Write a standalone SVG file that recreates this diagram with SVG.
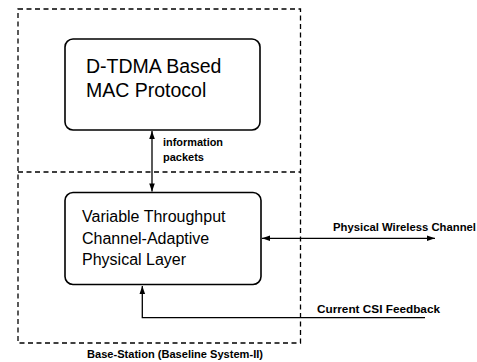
<svg xmlns="http://www.w3.org/2000/svg" width="477" height="362" viewBox="0 0 477 362">
  <style>
    .dash { fill: none; stroke: #000; stroke-width: 1.3; stroke-dasharray: 5 3.5; }
    .box { fill: #fff; stroke: #000; stroke-width: 1.6; }
    .line { fill: none; stroke: #000; stroke-width: 1.3; }
    .big { font-family: "Liberation Sans", Arial, sans-serif; font-size: 19.5px; fill: #000; }
    .mid { font-family: "Liberation Sans", Arial, sans-serif; font-size: 16px; fill: #000; }
    .lbl { font-family: "Liberation Sans", Arial, sans-serif; font-size: 11px; font-weight: bold; fill: #000; }
  </style>
  <defs>
    <marker id="arrow" viewBox="0 0 10 10" refX="10" refY="5" markerWidth="10" markerHeight="8" markerUnits="userSpaceOnUse" orient="auto-start-reverse">
      <path d="M0,1.5 L10,5 L0,8.5 Z" fill="#000"/>
    </marker>
  </defs>

  <rect width="477" height="362" fill="#fff"/>

  <!-- base-station boundary, split into MAC and PHY halves -->
  <g id="base-station">
    <rect class="dash" x="18" y="9" width="282.5" height="334"/>
    <line class="dash" x1="18" y1="172" x2="300.5" y2="172"/>
    <text class="lbl" x="87" y="358" textLength="176" lengthAdjust="spacingAndGlyphs">Base-Station (Baseline System-II)</text>
  </g>

  <g id="mac">
    <rect class="box" x="65" y="39" width="195" height="91" rx="8"/>
    <text class="big" x="86" y="73">D-TDMA Based</text>
    <text class="big" x="86" y="96.5">MAC Protocol</text>
  </g>

  <g id="phy">
    <rect class="box" x="65" y="192.5" width="196" height="92" rx="8"/>
    <text class="mid" x="82" y="222">Variable Throughput</text>
    <text class="mid" x="82" y="243.5">Channel-Adaptive</text>
    <text class="mid" x="82" y="265">Physical Layer</text>
  </g>

  <g id="connectors">
    <!-- information packets between MAC and PHY -->
    <line class="line" x1="152" y1="131" x2="152" y2="191.5" marker-start="url(#arrow)" marker-end="url(#arrow)"/>
    <text class="lbl" x="163" y="145.5" textLength="60" lengthAdjust="spacingAndGlyphs">information</text>
    <text class="lbl" x="163" y="160.5" textLength="41" lengthAdjust="spacingAndGlyphs">packets</text>

    <!-- physical wireless channel -->
    <line class="line" x1="262" y1="238.3" x2="435" y2="238.3" marker-start="url(#arrow)" marker-end="url(#arrow)"/>
    <text class="lbl" x="333" y="231" textLength="143" lengthAdjust="spacingAndGlyphs">Physical Wireless Channel</text>

    <!-- CSI feedback loop -->
    <polyline class="line" points="425,317.7 142.3,317.7 142.3,286" marker-end="url(#arrow)"/>
    <text class="lbl" x="317" y="313" textLength="123" lengthAdjust="spacingAndGlyphs">Current CSI Feedback</text>
  </g>
</svg>
